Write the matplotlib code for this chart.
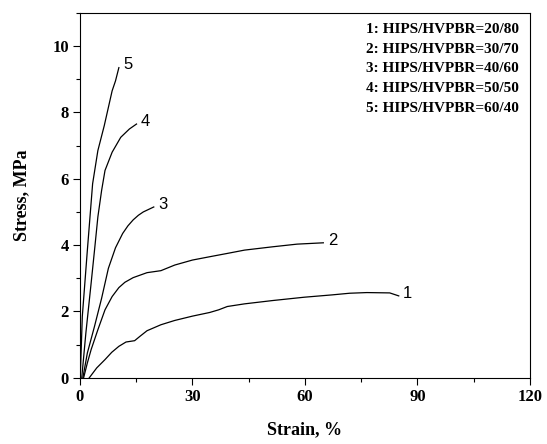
import matplotlib
matplotlib.use("Agg")
import matplotlib.pyplot as plt
from matplotlib.ticker import MultipleLocator

# strain (%) / stress (MPa)
strain1 = [2.5, 4.5, 6.7, 8.5, 10.4, 12.3, 14.6, 16.0, 17.9, 21.6, 25.3, 30.0, 34.6, 37.0, 39.3, 43.9, 51.4, 59.8, 67.2, 71.9, 76.5, 82.6, 85.0]
stress1 = [0.0, 0.3, 0.55, 0.77, 0.95, 1.08, 1.12, 1.25, 1.42, 1.6, 1.73, 1.86, 1.97, 2.05, 2.15, 2.23, 2.33, 2.43, 2.5, 2.55, 2.57, 2.56, 2.47]

strain2 = [1.0, 2.0, 3.0, 4.8, 6.7, 8.6, 10.4, 12.0, 14.2, 17.9, 21.6, 25.3, 30.0, 34.6, 39.3, 43.9, 51.4, 57.9, 64.9]
stress2 = [0.0, 0.45, 0.85, 1.45, 2.05, 2.45, 2.72, 2.88, 3.02, 3.17, 3.23, 3.4, 3.55, 3.65, 3.75, 3.85, 3.95, 4.03, 4.07]

strain3 = [0.8, 2.0, 3.9, 5.8, 7.6, 9.5, 11.4, 12.8, 14.2, 15.6, 16.9, 19.7]
stress3 = [0.0, 0.75, 1.55, 2.4, 3.3, 3.92, 4.35, 4.58, 4.76, 4.9, 5.0, 5.15]

strain4 = [0.5, 1.6, 3.0, 4.0, 4.8, 5.8, 6.7, 8.6, 10.9, 13.2, 15.1]
stress4 = [0.0, 1.35, 2.85, 3.95, 4.85, 5.65, 6.25, 6.8, 7.25, 7.5, 7.65]

strain5 = [0.1, 0.65, 2.0, 3.4, 4.8, 6.5, 7.2, 8.6, 9.5, 10.4]
stress5 = [0.0, 1.85, 3.85, 5.85, 6.85, 7.6, 7.95, 8.65, 8.95, 9.35]

curve_labels = ["1", "2", "3", "4", "5"]
legend_lines = ["1: HIPS/HVPBR=20/80", "2: HIPS/HVPBR=30/70", "3: HIPS/HVPBR=40/60",
                "4: HIPS/HVPBR=50/50", "5: HIPS/HVPBR=60/40"]

serif = "Liberation Serif"

fig = plt.figure(figsize=(5.47, 4.44), dpi=100)
ax = fig.add_axes([0.146, 0.149, 0.823, 0.822])

curves = [(strain1, stress1), (strain2, stress2), (strain3, stress3),
          (strain4, stress4), (strain5, stress5)]
for (x, y), lab in zip(curves, curve_labels):
    ax.plot(x, y, color="black", lw=0.9)
    ax.text(x[-1] + 1.2, y[-1] + 0.08, lab, fontsize=12, family="Liberation Sans",
            ha="left", va="center")

ax.set_xlim(0, 120)
ax.set_ylim(0, 11)
ax.xaxis.set_major_locator(MultipleLocator(30))
ax.xaxis.set_minor_locator(MultipleLocator(15))
ax.yaxis.set_major_locator(MultipleLocator(2))
ax.yaxis.set_minor_locator(MultipleLocator(1))
ax.tick_params(which="both", direction="out", top=False, right=False, width=0.8)
ax.tick_params(which="major", length=5, labelsize=12, pad=3)
ax.tick_params(which="minor", length=3)
for lbl in ax.get_xticklabels() + ax.get_yticklabels():
    lbl.set_family(serif)
    lbl.set_fontweight("bold")
for sp in ax.spines.values():
    sp.set_linewidth(0.8)

ax.set_xlabel("Strain, %", family=serif, fontweight="bold", fontsize=13, labelpad=12)
ax.set_ylabel("Stress, MPa", family=serif, fontweight="bold", fontsize=13, labelpad=16)

for i, t in enumerate(legend_lines):
    ax.text(0.975, 0.955 - i * 0.054, t, transform=ax.transAxes, ha="right", va="center",
            family=serif, fontweight="bold", fontsize=11)

fig.savefig("out.png", dpi=100)
